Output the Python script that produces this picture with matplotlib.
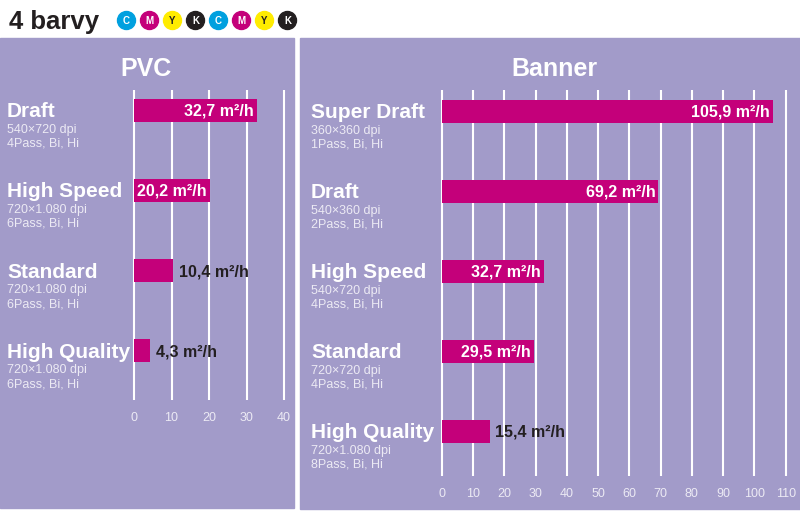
import matplotlib
matplotlib.use("Agg")
import matplotlib.pyplot as plt
from matplotlib.patches import Rectangle, Ellipse

plt.rcParams['font.family'] = ['Liberation Sans', 'DejaVu Sans']

# Data
pvc_modes = ["Draft", "High Speed", "Standard", "High Quality"]
pvc_dpi = ["540×720 dpi", "720×1.080 dpi", "720×1.080 dpi", "720×1.080 dpi"]
pvc_pass = ["4Pass, Bi, Hi", "6Pass, Bi, Hi", "6Pass, Bi, Hi", "6Pass, Bi, Hi"]
pvc_speed = [32.7, 20.2, 10.4, 4.3]
pvc_ticks = [0, 10, 20, 30, 40]

banner_modes = ["Super Draft", "Draft", "High Speed", "Standard", "High Quality"]
banner_dpi = ["360×360 dpi", "540×360 dpi", "540×720 dpi", "720×720 dpi", "720×1.080 dpi"]
banner_pass = ["1Pass, Bi, Hi", "2Pass, Bi, Hi", "4Pass, Bi, Hi", "4Pass, Bi, Hi", "8Pass, Bi, Hi"]
banner_speed = [105.9, 69.2, 32.7, 29.5, 15.4]
banner_ticks = [0, 10, 20, 30, 40, 50, 60, 70, 80, 90, 100, 110]

ink_letters = ["C", "M", "Y", "K", "C", "M", "Y", "K"]

BG = "#A29BC9"
BAR = "#C4007A"
DARK = "#231F20"
SUB = "#ECEAF4"
INK_COLORS = {"C": "#00A0DF", "M": "#C4007A", "Y": "#FFEC00", "K": "#231F20"}

W, H = 800, 515
fig = plt.figure(figsize=(W / 100, H / 100), dpi=100)
fig.patch.set_facecolor("white")


def fx(px):
    return px / W


def fy(py):
    return 1 - py / H


def label_text(v):
    return f"{v:.1f}".replace(".", ",") + " m²/h"


# Draw one panel with its bar chart
def draw_panel(box, x0, x1, top, bottom, first, step, ticks, modes, dpis, passes, speeds, label_x, title, title_x):
    bx0, by0, bx1, by1 = box
    fig.add_artist(Rectangle((fx(bx0), fy(by1)), fx(bx1) - fx(bx0), fy(by0) - fy(by1),
                             transform=fig.transFigure, color=BG, zorder=0))
    fig.text(fx(title_x), fy(75.5), title, ha="center", va="baseline",
             fontsize=18, fontweight="bold", color="white")

    xmax = ticks[-1]
    u = xmax / (x1 - x0)
    pad = 3
    ax = fig.add_axes([fx(x0 - pad), fy(bottom), fx(x1 - x0 + 2 * pad), fy(top) - fy(bottom)])
    ax.set_facecolor("none")
    ax.set_xlim(-pad * u, xmax + pad * u)
    ax.set_ylim((bottom - first) / step, -(first - top) / step)
    for s in ax.spines.values():
        s.set_visible(False)
    ax.set_xticks(ticks)
    ax.set_yticks([])
    ax.tick_params(axis="x", length=0, pad=8.5, labelsize=9, labelcolor=SUB)
    ax.grid(axis="x", color="white", linewidth=1.5)
    ax.set_axisbelow(True)

    ypos = list(range(len(modes)))
    ax.barh(ypos, speeds, height=23 / step, color=BAR, zorder=3)

    renderer = fig.canvas.get_renderer()
    for i, v in enumerate(speeds):
        bar_px = v / u
        t = ax.annotate(label_text(v), xy=(v, i), xytext=(-2, -4), textcoords="offset points",
                        ha="right", va="baseline", fontsize=11.5, fontweight="bold",
                        color="white", zorder=4)
        w = t.get_window_extent(renderer).width
        if w + 3 > bar_px:
            t.set_ha("left")
            t.set_color(DARK)
            t.xyann = (4, -4)

        ax.annotate(modes[i], xy=(fx(label_x), i), xycoords=("figure fraction", "data"),
                    xytext=(0, -5), textcoords="offset points", ha="left", va="baseline",
                    fontsize=15, fontweight="bold", color="white", annotation_clip=False)
        ax.annotate(dpis[i], xy=(fx(label_x), i), xycoords=("figure fraction", "data"),
                    xytext=(0, -16.2), textcoords="offset points", ha="left", va="baseline",
                    fontsize=9, color=SUB, annotation_clip=False)
        ax.annotate(passes[i], xy=(fx(label_x), i), xycoords=("figure fraction", "data"),
                    xytext=(0, -26.3), textcoords="offset points", ha="left", va="baseline",
                    fontsize=9, color=SUB, annotation_clip=False)
    return ax


draw_panel((0, 38, 294, 508), 134, 284, 90, 400, 110, 80.3, pvc_ticks,
           pvc_modes, pvc_dpi, pvc_pass, pvc_speed, 7, "PVC", 146)
draw_panel((300, 38, 800, 509), 441.7, 785.7, 90, 476, 111, 80, banner_ticks,
           banner_modes, banner_dpi, banner_pass, banner_speed, 311, "Banner", 554)

# Header
fig.text(fx(9), fy(29), "4 barvy", ha="left", va="baseline", fontsize=18.5,
         fontweight="bold", color=DARK)
cx0, dcx = 126.5, 23
for k, letter in enumerate(ink_letters):
    cx = cx0 + k * dcx
    col = INK_COLORS[letter]
    fig.add_artist(Ellipse((fx(cx), fy(20.5)), 18 / W, 18 / H, transform=fig.transFigure,
                           color=col, zorder=2))
    fig.text(fx(cx), fy(20.5), letter, ha="center", va="center", fontsize=7,
             fontweight="bold", color=DARK if letter == "Y" else "white", zorder=3)

fig.savefig("out.png", dpi=100)
